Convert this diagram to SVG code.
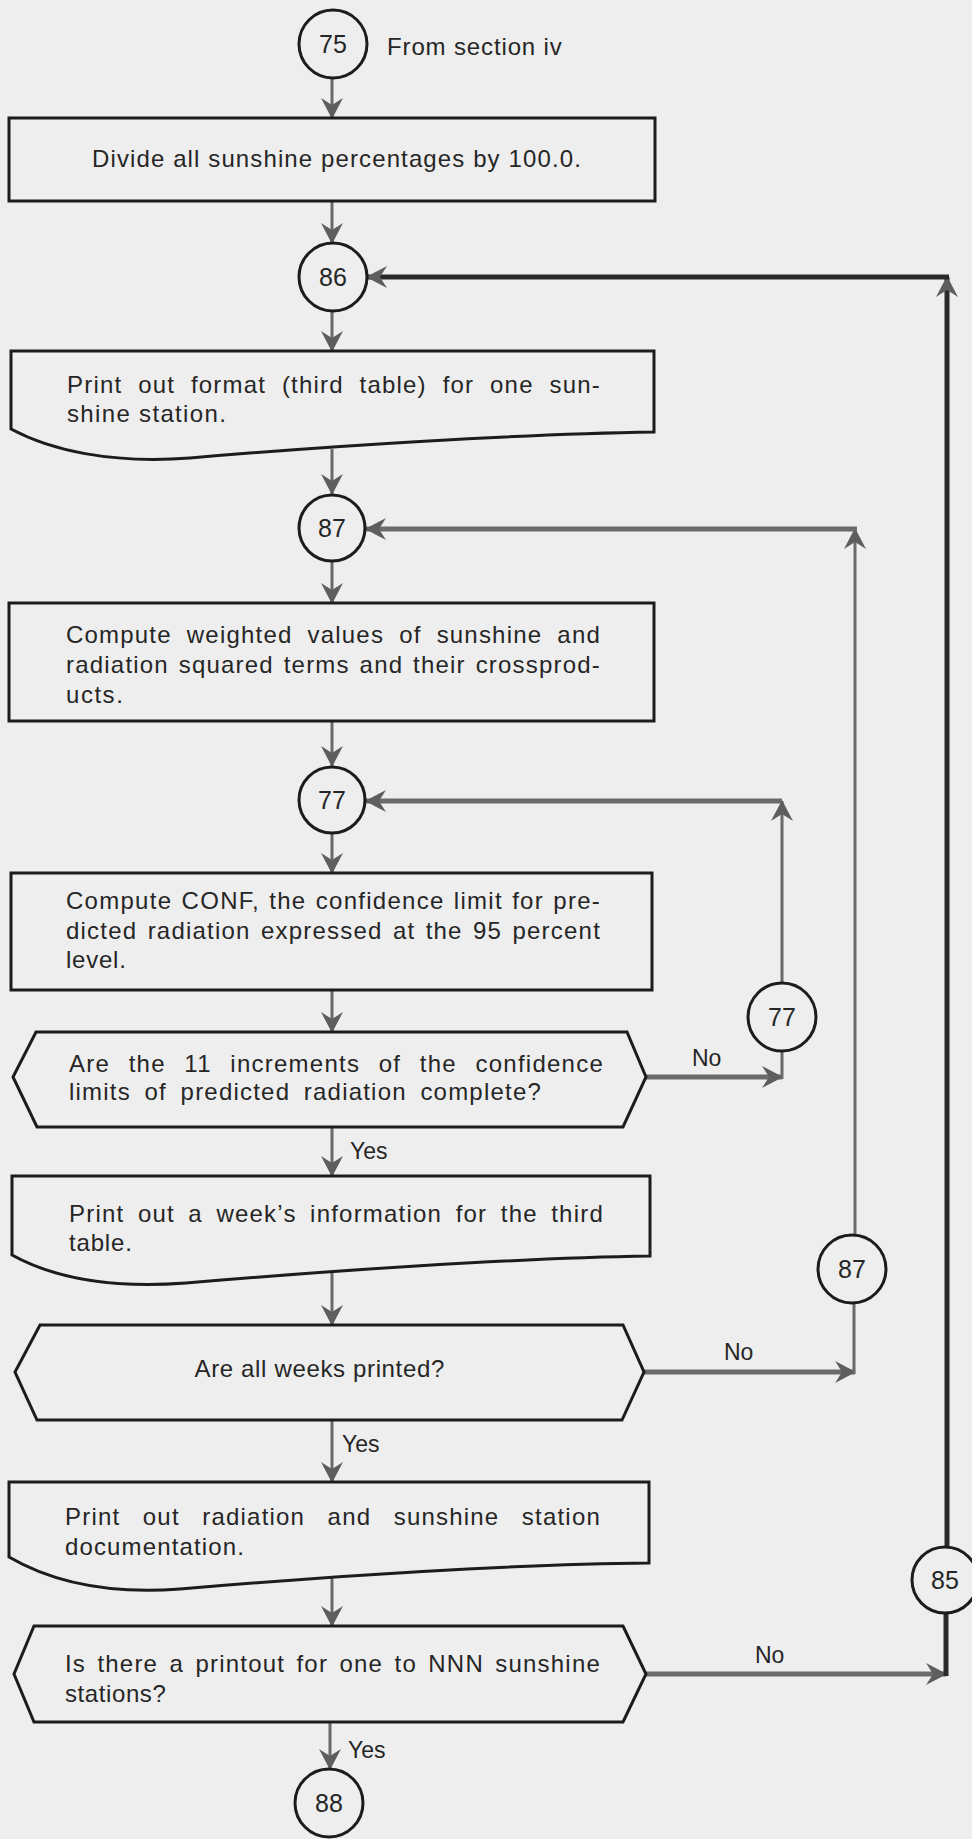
<svg xmlns="http://www.w3.org/2000/svg" width="972" height="1839" viewBox="0 0 972 1839">
  <defs>
    <marker id="arr" viewBox="-22 -13 24 26" refX="0" refY="0" markerWidth="24" markerHeight="26" markerUnits="userSpaceOnUse" orient="auto">
      <path d="M1,0 L-20,-11 L-13,0 L-20,11 Z" fill="#5e5e5e"/>
    </marker>
    <style>
      .shape { fill: none; stroke: #1c1c1c; stroke-width: 3; stroke-linejoin: miter; }
      .conn { fill: none; stroke: #6a6a6a; stroke-width: 3; }
      .thick { stroke-width: 5; }
      .dark { stroke: #2a2a2a; }
      .arrow { marker-end: url(#arr); }
      text { font-family: "Liberation Sans", Arial, sans-serif; font-size: 24px; fill: #262626; }
      .p { letter-spacing: 1.2px; }
      .num { font-size: 25px; text-anchor: middle; }
      .lbl { font-size: 23px; }
    </style>
  </defs>

  <rect x="0" y="0" width="972" height="1839" fill="#eeeeee"/>

  <!-- connectors -->
  <g id="connectors">
    <path class="conn arrow" d="M332,79 V118"/>
    <path class="conn arrow" d="M332,201 V243"/>
    <path class="conn arrow" d="M332,311 V351"/>
    <path class="conn arrow" d="M332,449 V494"/>
    <path class="conn arrow" d="M332,562 V603"/>
    <path class="conn arrow" d="M332,721 V766"/>
    <path class="conn arrow" d="M332,834 V873"/>
    <path class="conn arrow" d="M332,990 V1032"/>
    <path class="conn arrow" d="M332,1127 V1176"/>
    <path class="conn arrow" d="M332,1272 V1325"/>
    <path class="conn arrow" d="M332,1420 V1482"/>
    <path class="conn arrow" d="M332,1578 V1626"/>
    <path class="conn arrow" d="M330,1722 V1769"/>

    <!-- loop back to 77 -->
    <path class="conn thick arrow" d="M646,1077 H782"/>
    <path class="conn" d="M782,1079 V1051"/>
    <path class="conn arrow" d="M782,983 V801"/>
    <path class="conn thick arrow" d="M782,801 H366"/>

    <!-- loop back to 87 -->
    <path class="conn thick arrow" d="M644,1372 H855"/>
    <path class="conn" d="M854,1374 V1303"/>
    <path class="conn arrow" d="M855,1235 V529"/>
    <path class="conn thick arrow" d="M857,529 H366"/>

    <!-- loop back to 86 -->
    <path class="conn thick arrow" d="M646,1674 H946"/>
    <path class="conn dark thick" d="M946,1676 V1613"/>
    <path class="conn dark thick arrow" d="M947,1547 V277"/>
    <path class="conn dark thick arrow" d="M949,277 H367"/>

    <text class="lbl" x="692" y="1066">No</text>
    <text class="lbl" x="350" y="1159">Yes</text>
    <text class="lbl" x="724" y="1360">No</text>
    <text class="lbl" x="342" y="1452">Yes</text>
    <text class="lbl" x="755" y="1663">No</text>
    <text class="lbl" x="348" y="1758">Yes</text>
  </g>

  <g id="c75">
    <circle class="shape" cx="333" cy="44" r="34"/>
    <text class="num" x="333" y="53">75</text>
    <text class="p" x="387" y="55" textLength="176">From section iv</text>
  </g>

  <g id="divide">
    <rect class="shape" x="9" y="118" width="646" height="83"/>
    <text class="p" x="337" y="167" text-anchor="middle" textLength="490">Divide all sunshine percentages by 100.0.</text>
  </g>

  <g id="c86">
    <circle class="shape" cx="333" cy="277" r="34"/>
    <text class="num" x="333" y="286">86</text>
  </g>

  <g id="print-format">
    <path class="shape" d="M11,351 H654 V432 C520,434 330,446 190,458 C110,464 50,450 11,429 Z"/>
    <text class="p" x="67" y="393" word-spacing="8" textLength="534">Print out format (third table) for one sun-</text>
    <text class="p" x="67" y="422" textLength="160">shine station.</text>
  </g>

  <g id="c87">
    <circle class="shape" cx="332" cy="528" r="33"/>
    <text class="num" x="332" y="537">87</text>
  </g>

  <g id="weighted">
    <rect class="shape" x="9" y="603" width="645" height="118"/>
    <text class="p" x="66" y="643" word-spacing="7.2" textLength="535">Compute weighted values of sunshine and</text>
    <text class="p" x="66" y="673" word-spacing="2" textLength="535">radiation squared terms and their crossprod-</text>
    <text class="p" x="66" y="703" textLength="58">ucts.</text>
  </g>

  <g id="c77">
    <circle class="shape" cx="332" cy="800" r="33"/>
    <text class="num" x="332" y="809">77</text>
  </g>

  <g id="conf">
    <rect class="shape" x="11" y="873" width="641" height="117"/>
    <text class="p" x="66" y="909" word-spacing="1.4" textLength="535">Compute CONF, the confidence limit for pre-</text>
    <text class="p" x="66" y="939" word-spacing="2.5" textLength="535">dicted radiation expressed at the 95 percent</text>
    <text class="p" x="66" y="968" textLength="61">level.</text>
  </g>

  <g id="increments">
    <path class="shape" d="M36,1032 H627 L646,1077 L623,1127 H37 L13,1077 Z"/>
    <text class="p" x="69" y="1072" word-spacing="10.7" textLength="535">Are the 11 increments of the confidence</text>
    <text class="p" x="69" y="1100" word-spacing="5.8" textLength="473">limits of predicted radiation complete?</text>
  </g>

  <g id="c77b">
    <circle class="shape" cx="782" cy="1017" r="34"/>
    <text class="num" x="782" y="1026">77</text>
  </g>

  <g id="print-week">
    <path class="shape" d="M12,1176 H650 V1256 C516,1258 326,1271 186,1283 C106,1289 50,1276 12,1255 Z"/>
    <text class="p" x="69" y="1222" word-spacing="5.6" textLength="535">Print out a week’s information for the third</text>
    <text class="p" x="69" y="1251" textLength="64">table.</text>
  </g>

  <g id="c87b">
    <circle class="shape" cx="852" cy="1269" r="34"/>
    <text class="num" x="852" y="1278">87</text>
  </g>

  <g id="weeks">
    <path class="shape" d="M40,1325 H623 L644,1372 L622,1420 H37 L15,1372 Z"/>
    <text class="p" x="320" y="1377" text-anchor="middle" textLength="251">Are all weeks printed?</text>
  </g>

  <g id="print-docs">
    <path class="shape" d="M9,1482 H649 V1563 C520,1564 330,1576 180,1589 C100,1595 45,1578 9,1557 Z"/>
    <text class="p" x="65" y="1525" word-spacing="14.6" textLength="536">Print out radiation and sunshine station</text>
    <text class="p" x="65" y="1555" textLength="180">documentation.</text>
  </g>

  <g id="c85">
    <circle class="shape" cx="945" cy="1580" r="33"/>
    <text class="num" x="945" y="1589">85</text>
  </g>

  <g id="stations">
    <path class="shape" d="M34,1626 H623 L646,1674 L623,1722 H34 L14,1674 Z"/>
    <text class="p" x="65" y="1672" word-spacing="3.5" textLength="536">Is there a printout for one to NNN sunshine</text>
    <text class="p" x="65" y="1702" textLength="102">stations?</text>
  </g>

  <g id="c88">
    <circle class="shape" cx="329" cy="1803" r="34"/>
    <text class="num" x="329" y="1812">88</text>
  </g>
</svg>
